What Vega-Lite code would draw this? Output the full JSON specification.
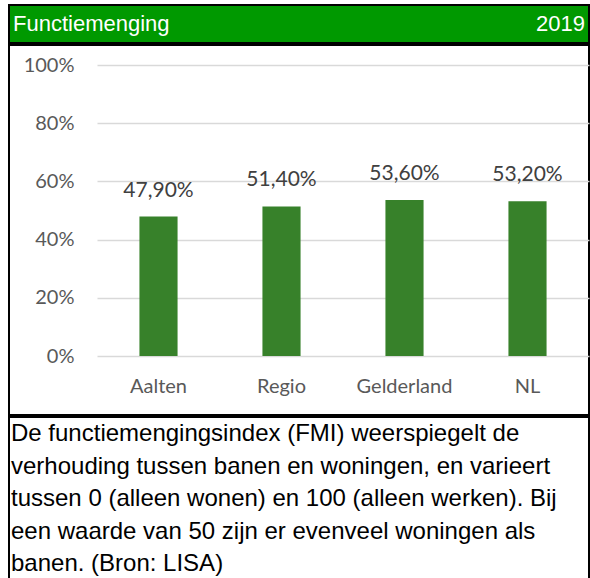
{
  "$schema": "https://vega.github.io/schema/vega-lite/v6.json",
  "padding": {"left": 8, "top": 4, "right": 0, "bottom": 0},
  "background": "white",
  "spacing": 0,
  "datasets": {
    "header": [{"title": "Functiemenging", "year": "2019"}],
    "fmi": [
      {"gebied": "Aalten", "waarde": 0.479},
      {"gebied": "Regio", "waarde": 0.514},
      {"gebied": "Gelderland", "waarde": 0.536},
      {"gebied": "NL", "waarde": 0.532}
    ],
    "note": [{"tekst": "De functiemengingsindex (FMI) weerspiegelt de\nverhouding tussen banen en woningen, en varieert\ntussen 0 (alleen wonen) en 100 (alleen werken). Bij\neen waarde van 50 zijn er evenveel woningen als\nbanen. (Bron: LISA)"}]
  },
  "vconcat": [
    {
      "width": 580,
      "height": 38,
      "view": {"fill": "#009900", "stroke": "black", "strokeWidth": 2},
      "data": {"name": "header"},
      "layer": [
        {
          "mark": {"type": "text", "align": "left", "baseline": "middle", "dx": 4, "font": "Liberation Sans", "fontSize": 22, "color": "white"},
          "encoding": {
            "x": {"datum": 0, "type": "quantitative", "scale": {"domain": [0, 1]}, "axis": null},
            "text": {"field": "title"}
          }
        },
        {
          "mark": {"type": "text", "align": "right", "baseline": "middle", "dx": -4, "font": "Liberation Sans", "fontSize": 22, "color": "white"},
          "encoding": {
            "x": {"datum": 1, "type": "quantitative", "scale": {"domain": [0, 1]}, "axis": null},
            "text": {"field": "year"}
          }
        }
      ]
    },
    {
      "width": 580,
      "height": 370,
      "view": {"stroke": "black", "strokeWidth": 2},
      "data": {"name": "fmi"},
      "encoding": {
        "x": {
          "field": "gebied", "type": "nominal", "sort": null,
          "scale": {"range": [88, 580], "paddingInner": 0.69, "paddingOuter": 0.345},
          "axis": {"title": null, "labelAngle": 0, "domain": false, "ticks": false, "offset": -29, "labelPadding": 0, "labelBaseline": "middle", "labelFont": "Lato", "labelFontSize": 20, "labelColor": "#595959", "grid": false}
        },
        "y": {
          "field": "waarde", "type": "quantitative",
          "scale": {"domain": [0, 1], "range": [311, 20], "nice": false},
          "axis": {"title": null, "values": [0, 0.2, 0.4, 0.6, 0.8, 1], "format": ".0%", "domain": false, "ticks": false, "offset": -71, "labelPadding": 6, "labelFont": "Lato", "labelFontSize": 20, "labelColor": "#595959", "grid": true, "gridColor": "#D9D9D9", "gridWidth": 1.5}
        }
      },
      "layer": [
        {"mark": {"type": "bar", "color": "#37812A"}},
        {
          "mark": {"type": "text", "baseline": "alphabetic", "dy": -20, "font": "Lato", "fontSize": 21, "color": "#404040"},
          "encoding": {"text": {"field": "waarde", "type": "quantitative", "format": ".2%"}}
        }
      ]
    },
    {
      "width": 580,
      "height": 170,
      "view": {"stroke": "black", "strokeWidth": 2},
      "data": {"name": "note"},
      "mark": {"type": "text", "align": "left", "baseline": "alphabetic", "lineBreak": "\n", "lineHeight": 32.5, "dx": 2, "dy": 24, "font": "Liberation Sans", "fontSize": 24, "color": "black"},
      "encoding": {
        "x": {"datum": 0, "type": "quantitative", "scale": {"domain": [0, 1]}, "axis": null},
        "y": {"datum": 1, "type": "quantitative", "scale": {"domain": [0, 1]}, "axis": null},
        "text": {"field": "tekst"}
      }
    }
  ],
  "config": {
    "locale": {"number": {"decimal": ",", "thousands": ".", "grouping": [3], "currency": ["€ ", ""]}},
    "view": {"stroke": "black", "strokeWidth": 2}
  }
}
